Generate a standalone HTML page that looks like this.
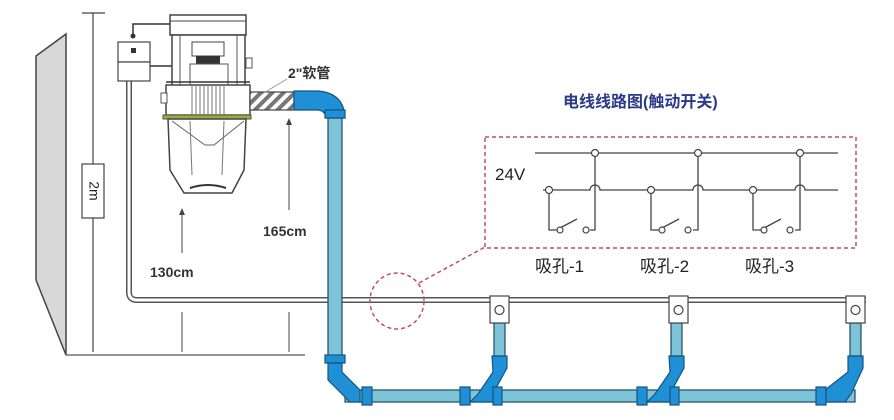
<!DOCTYPE html>
<html><head><meta charset="utf-8"><style>
html,body{margin:0;padding:0;background:#fff;width:894px;height:420px;overflow:hidden}
svg{display:block}
text{font-family:"Liberation Sans","Noto Sans CJK SC",sans-serif}
</style></head><body>
<svg width="894" height="420" viewBox="0 0 894 420" xmlns="http://www.w3.org/2000/svg">
<defs>
<pattern id="hatch" width="8" height="8" patternUnits="userSpaceOnUse" patternTransform="rotate(45)">
<rect width="8" height="8" fill="#fff"/><rect width="4" height="8" fill="#777"/>
</pattern>
</defs>
<!-- wall -->
<polygon points="36,56 66,34 66,355 36,280" fill="#d8d8d8" stroke="#444" stroke-width="1.5"/>
<line x1="66" y1="355" x2="305" y2="355" stroke="#555" stroke-width="1.2"/>
<!-- 2m dimension -->
<line x1="82" y1="13" x2="105" y2="13" stroke="#444" stroke-width="1.2"/>
<line x1="93" y1="13" x2="93" y2="352" stroke="#444" stroke-width="1.2"/>
<rect x="82" y="164" width="22" height="54" fill="#fff" stroke="#444" stroke-width="1.2"/>
<text x="93" y="191" font-size="14" fill="#222" transform="rotate(90 93 191)" text-anchor="middle" dominant-baseline="middle">2m</text>
<!-- 130 / 165 dims -->
<line x1="182" y1="212" x2="182" y2="253" stroke="#444"/><polygon points="182,208 179,215 185,215" fill="#444"/>
<line x1="182" y1="312" x2="182" y2="352" stroke="#444"/>
<line x1="289" y1="122" x2="289" y2="210" stroke="#444"/><polygon points="289,118 286,125 292,125" fill="#444"/>
<line x1="289" y1="312" x2="289" y2="352" stroke="#444"/>
<text x="150" y="277" font-size="14" font-weight="bold" fill="#333">130cm</text>
<text x="263" y="236" font-size="14" font-weight="bold" fill="#333">165cm</text>
<!-- wire -->
<path d="M129,80 V292 Q129,300 137,300 H866" fill="none" stroke="#555" stroke-width="6"/>
<path d="M129,80 V292 Q129,300 137,300 H866" fill="none" stroke="#fff" stroke-width="3"/>
<!-- control box -->
<rect x="118" y="42" width="32" height="20" fill="#fff" stroke="#444" stroke-width="1.2"/>
<rect x="118" y="62" width="32" height="19" fill="#fff" stroke="#444" stroke-width="1.2"/>
<rect x="131" y="48" width="5" height="5" fill="#333"/>
<path d="M133,38 V24 H172" fill="none" stroke="#333" stroke-width="1.5"/><circle cx="133" cy="36" r="2.5" fill="#333"/>
<line x1="150" y1="66" x2="172" y2="66" stroke="#333" stroke-width="1.5"/>
<!-- vacuum unit -->
<rect x="170" y="15" width="76" height="20" fill="#fff" stroke="#444" stroke-width="1.5"/>
<line x1="170" y1="21" x2="246" y2="21" stroke="#444"/>
<rect x="172" y="35" width="73" height="52" fill="#fff" stroke="#444" stroke-width="1.5"/>
<line x1="180" y1="35" x2="180" y2="87" stroke="#555"/><line x1="237" y1="35" x2="237" y2="87" stroke="#555"/>
<rect x="192" y="42" width="32" height="14" fill="#fff" stroke="#444"/>
<rect x="196" y="56" width="24" height="8" fill="#333"/>
<rect x="190" y="64" width="38" height="22" fill="#fff" stroke="#555"/>
<rect x="246" y="58" width="6" height="10" fill="#fff" stroke="#555"/>
<rect x="166" y="85" width="84" height="30" fill="#fff" stroke="#444" stroke-width="1.5"/>
<line x1="166" y1="82" x2="250" y2="82" stroke="#333" stroke-width="1.5"/>
<g stroke="#777" stroke-width="1"><line x1="192" y1="86" x2="192" y2="114"/><line x1="196" y1="86" x2="196" y2="114"/><line x1="200" y1="86" x2="200" y2="114"/><line x1="204" y1="86" x2="204" y2="114"/><line x1="208" y1="86" x2="208" y2="114"/><line x1="212" y1="86" x2="212" y2="114"/><line x1="216" y1="86" x2="216" y2="114"/><line x1="220" y1="86" x2="220" y2="114"/><line x1="224" y1="86" x2="224" y2="114"/></g>
<rect x="161" y="93" width="6" height="10" fill="#fff" stroke="#555"/>
<rect x="163" y="115" width="88" height="4" fill="#9aae3a" stroke="#555"/>
<path d="M168,119 H246 L244,170 L232,193 H184 L170,170 Z" fill="#fff" stroke="#444" stroke-width="1.5"/>
<path d="M172,121 L205,145 H214 L244,121" fill="none" stroke="#666"/>
<line x1="190" y1="121" x2="192" y2="175" stroke="#777"/><line x1="224" y1="121" x2="222" y2="175" stroke="#777"/>
<path d="M190,188 Q208,182 226,188" fill="none" stroke="#333" stroke-width="2"/>
<!-- hose -->
<rect x="250" y="92" width="44" height="18" fill="url(#hatch)" stroke="#444" stroke-width="1.2"/>
<line x1="287" y1="79" x2="262" y2="94" stroke="#999"/>
<text x="288" y="78" font-size="14" font-weight="bold" fill="#333">2"软管</text>
<!-- blue pipes -->
<g fill="#7ec4d8" stroke="#1c4a66" stroke-width="1.2">
<rect x="328" y="118" width="14" height="242"/>
<rect x="345" y="390" width="510" height="12"/>
<rect x="494" y="323" width="11" height="33"/>
<rect x="671" y="323" width="11" height="33"/>
<rect x="850" y="323" width="11" height="33"/>
</g>
<g fill="#1f8fd6" stroke="#15557e" stroke-width="1.2">
<path d="M294,91 H318 Q344,93 345,118 H326 Q325,110 317,110 H294 Z"/>
<rect x="325" y="110" width="20" height="8"/>
<rect x="325" y="355" width="20" height="8"/>
<path d="M328,363 H342 V372 L360,390 V402 H350 L328,380 Z"/>
<rect x="362" y="387" width="10" height="18"/>
<path d="M492,356 H507 V368 L495,390 V402 H470 L478,394 L493,372 Z"/>
<rect x="460" y="387" width="10" height="18"/><rect x="493" y="387" width="9" height="18"/>
<path d="M669,356 H684 V368 L672,390 V402 H647 L655,394 L670,372 Z"/>
<rect x="637" y="387" width="10" height="18"/><rect x="670" y="387" width="9" height="18"/>
<path d="M848,356 H863 V368 L851,394 L845,402 H825 V390 L848,372 Z"/>
<rect x="816" y="387" width="10" height="18"/>
</g>
<!-- outlet boxes -->
<g fill="#fff" stroke="#444" stroke-width="1.2">
<rect x="490" y="296" width="19" height="27"/><rect x="669" y="296" width="19" height="27"/><rect x="846" y="296" width="19" height="27"/>
<circle cx="499.5" cy="310" r="4.5"/><circle cx="678.5" cy="310" r="4.5"/><circle cx="855.5" cy="310" r="4.5"/>
</g>
<!-- red dashed -->
<g fill="none" stroke="#c0505a" stroke-width="1.5" stroke-dasharray="4,3">
<ellipse cx="397" cy="301" rx="27" ry="28"/>
<line x1="419" y1="283" x2="485" y2="247"/>
<rect x="485" y="137" width="371" height="111"/>
</g>
<text x="563" y="107" font-size="16" font-weight="bold" fill="#2a3a8a">电线线路图(触动开关)</text>
<!-- circuit -->
<g fill="none" stroke="#444" stroke-width="1.3">
<line x1="535" y1="153" x2="838" y2="153"/>
<path d="M543,190 H590 A5,5 0 0 1 600,190 H693 A5,5 0 0 1 703,190 H795 A5,5 0 0 1 805,190 H838"/>
<path d="M595,153 V230 H590"/><path d="M549,190 V230 H557"/><line x1="560" y1="228" x2="577" y2="219"/>
<path d="M698,153 V230 H693"/><path d="M651,190 V230 H659"/><line x1="662" y1="228" x2="679" y2="219"/>
<path d="M800,153 V230 H795"/><path d="M753,190 V230 H761"/><line x1="764" y1="228" x2="781" y2="219"/>
</g>
<g fill="#fff" stroke="#444" stroke-width="1.2">
<circle cx="595" cy="153" r="3.5"/><circle cx="698" cy="153" r="3.5"/><circle cx="800" cy="153" r="3.5"/>
<circle cx="549" cy="190" r="3.5"/><circle cx="651" cy="190" r="3.5"/><circle cx="753" cy="190" r="3.5"/>
<circle cx="560" cy="230" r="3"/><circle cx="586" cy="230" r="3"/>
<circle cx="662" cy="230" r="3"/><circle cx="688" cy="230" r="3"/>
<circle cx="764" cy="230" r="3"/><circle cx="790" cy="230" r="3"/>
</g>
<text x="495" y="180" font-size="17" fill="#222">24V</text>
<text x="535" y="272" font-size="17" fill="#222">吸孔-1</text>
<text x="640" y="272" font-size="17" fill="#222">吸孔-2</text>
<text x="745" y="272" font-size="17" fill="#222">吸孔-3</text>
</svg>
</body></html>
